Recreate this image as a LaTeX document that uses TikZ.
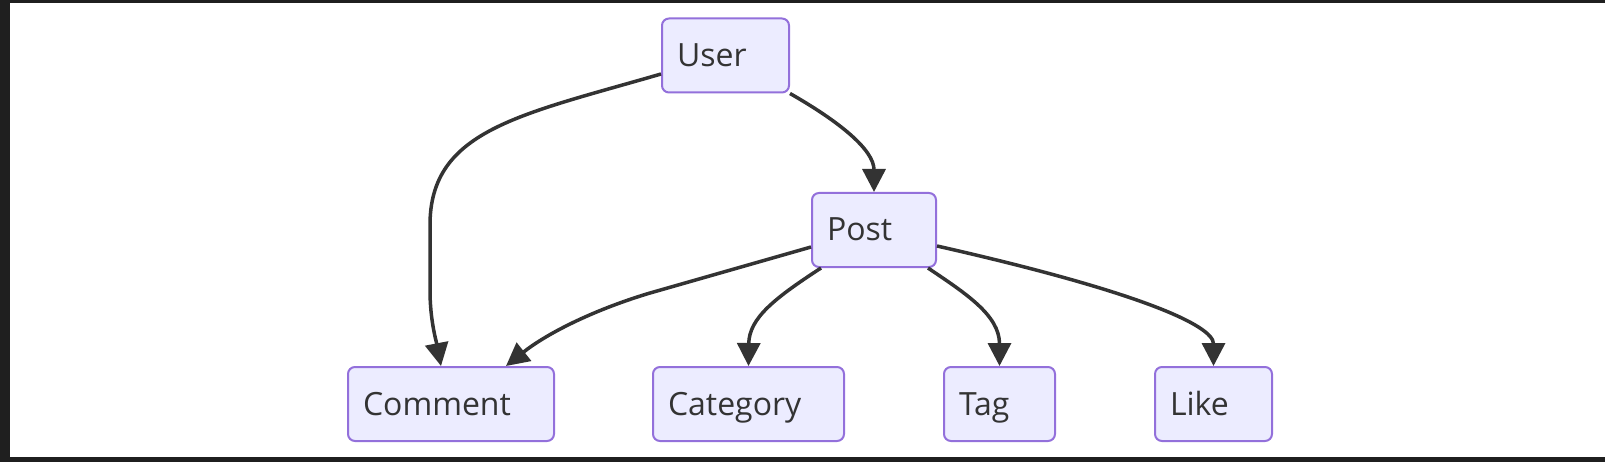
\documentclass[tikz,border=0pt]{standalone}
\usepackage{fontspec}
\setmainfont{Open Sans}
\usetikzlibrary{arrows.meta,calc}
\definecolor{nodefill}{HTML}{ECECFF}
\definecolor{nodeline}{HTML}{9370DB}
\definecolor{edgecol}{HTML}{333333}
\definecolor{framecol}{HTML}{1F1F1F}
\begin{document}
\begin{tikzpicture}[x=1pt,y=-1pt,
  entity/.style={draw=nodeline, fill=nodefill, line width=2pt, rounded corners=7pt,
    minimum height=74pt, inner xsep=15pt, align=left, text=edgecol,
    text height=30pt, text depth=8pt,
    font=\fontsize{32}{38}\selectfont, anchor=center},
  rel/.style={draw=edgecol, line width=3.5pt, -{Triangle[length=23pt,width=23pt]}}]
\fill[framecol] (0,0) rectangle (1605,462);
\fill[white] (10,3) rectangle (1605,457);
\useasboundingbox (0,0) rectangle (1605,462);

\node[entity, text width=97pt] (user) at (725.5,55.5) {User};
\node[entity, text width=94pt] (post) at (874,230) {Post};
\node[entity, text width=176pt] (comment) at (451,404) {Comment};
\node[entity, text width=161pt] (category) at (748.5,404) {Category};
\node[entity, text width=81pt] (tag) at (999.5,404) {Tag};
\node[entity, text width=87pt] (like) at (1213.5,404) {Like};

\draw[rel] ($(user.west)+(0,18.5)$) .. controls (520,115) and (430,130) .. (430,225)
   -- (430,290) .. controls (430,320) and (436,340) .. ($(comment.north)+(-10,0)$);
\draw[rel] (user.south east) .. controls (840,122) and (874,150) .. (post.north);
\draw[rel] ($(post.west)+(0,17)$) -- (650,293) .. controls (590,311) and (545,335) .. ($(comment.north)+(55,0)$);
\draw[rel] ($(post.south west)+(10,0)$) .. controls (775,298) and (749,318) .. (category.north);
\draw[rel] ($(post.south east)+(-9,0)$) .. controls (965,293) and (999.5,315) .. (tag.north);
\draw[rel] ($(post.east)+(0,16)$) .. controls (1136,291) and (1213.5,325) .. (like.north);
\end{tikzpicture}
\end{document}
